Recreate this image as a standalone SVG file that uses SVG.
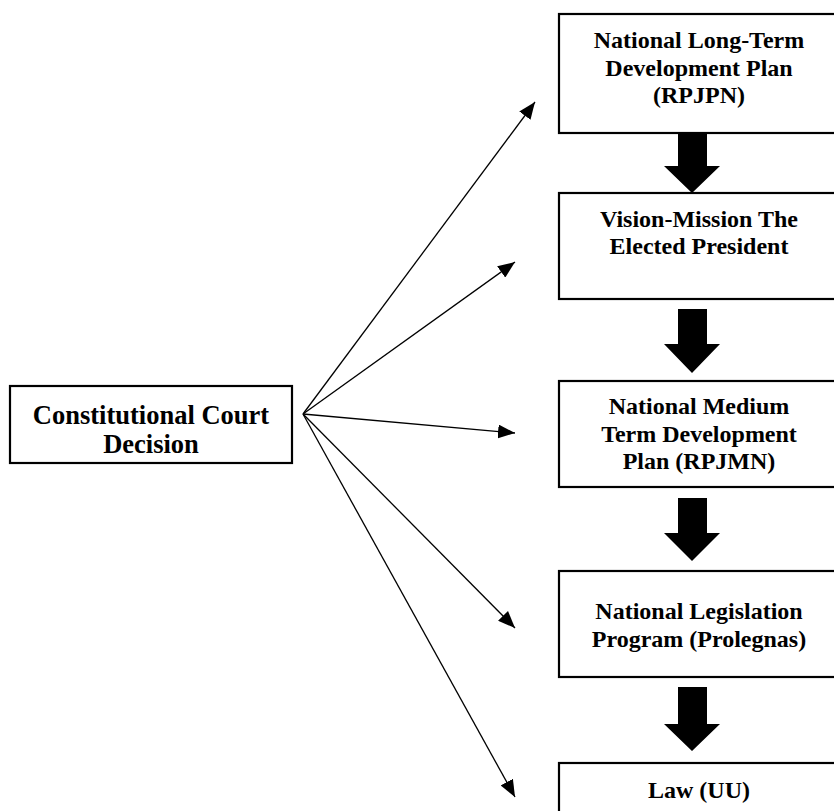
<svg xmlns="http://www.w3.org/2000/svg" width="834" height="811" viewBox="0 0 834 811">
<style>
.box{fill:#fff;stroke:#000;stroke-width:2.2}
.t{font-family:"Liberation Serif","Times New Roman",serif;font-weight:bold;fill:#000;text-anchor:middle}
.r{font-size:24px}
.l{font-size:26.5px}
.ln{stroke:#000;stroke-width:1.3;fill:none}
.blk{fill:#000}
</style>
<defs>
<marker id="ah" markerUnits="userSpaceOnUse" markerWidth="18" markerHeight="14" refX="17" refY="7" orient="auto">
<path d="M0,0 L17,7 L0,14 Z" fill="#000"/>
</marker>
<clipPath id="lc"><rect x="10" y="386" width="282" height="67"/></clipPath>
</defs>
<rect width="834" height="811" fill="#fff"/>
<g id="connectors">
<line class="ln" x1="303" y1="414" x2="535" y2="102" marker-end="url(#ah)"/>
<line class="ln" x1="303" y1="414" x2="515" y2="262" marker-end="url(#ah)"/>
<line class="ln" x1="303" y1="414" x2="515" y2="433" marker-end="url(#ah)"/>
<line class="ln" x1="303" y1="414" x2="515" y2="628" marker-end="url(#ah)"/>
<line class="ln" x1="303" y1="414" x2="515" y2="797" marker-end="url(#ah)"/>
<path class="blk" d="M678,133 H707 V166 H720 L692,193 L664,166 H678 Z"/>
<path class="blk" d="M678,309 H707 V344 H720 L692,373 L664,344 H678 Z"/>
<path class="blk" d="M678,498 H707 V533 H720 L692,561 L664,533 H678 Z"/>
<path class="blk" d="M678,687 H707 V724 H720 L692,751 L664,724 H678 Z"/>
</g>
<g id="court">
<rect class="box" x="10" y="386" width="282" height="77"/>
<g clip-path="url(#lc)">
<text class="t l" x="151" y="424">Constitutional Court</text>
<text class="t l" x="151" y="453">Decision</text>
</g>
</g>
<g id="rpjpn">
<rect class="box" x="559" y="14" width="290" height="119"/>
<text class="t r" x="699" y="48">National Long-Term</text>
<text class="t r" x="699" y="76">Development Plan</text>
<text class="t r" x="699" y="103">(RPJPN)</text>
</g>
<g id="vision">
<rect class="box" x="559" y="193" width="290" height="106"/>
<text class="t r" x="699" y="227">Vision-Mission The</text>
<text class="t r" x="699" y="254">Elected President</text>
</g>
<g id="rpjmn">
<rect class="box" x="559" y="381" width="290" height="106"/>
<text class="t r" x="699" y="414">National Medium</text>
<text class="t r" x="699" y="442">Term Development</text>
<text class="t r" x="699" y="469">Plan (RPJMN)</text>
</g>
<g id="prolegnas">
<rect class="box" x="559" y="571" width="290" height="106"/>
<text class="t r" x="699" y="619">National Legislation</text>
<text class="t r" x="699" y="647">Program (Prolegnas)</text>
</g>
<g id="law">
<rect class="box" x="559" y="763" width="290" height="80"/>
<text class="t r" x="699" y="798">Law (UU)</text>
</g>
</svg>
